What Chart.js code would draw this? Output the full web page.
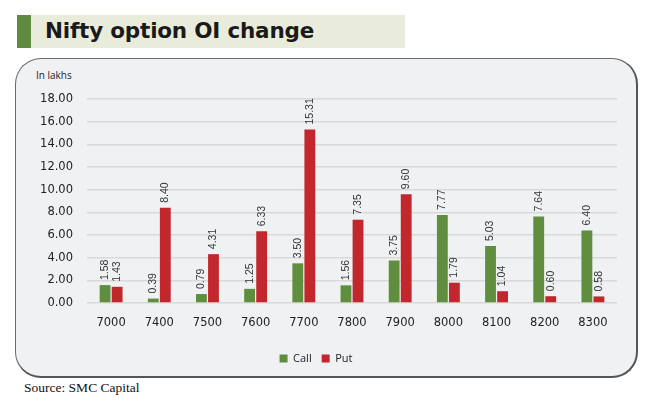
<!DOCTYPE html>
<html lang="en">
<head>
<meta charset="UTF-8">
<title>Nifty option OI change</title>
<script src="https://cdn.jsdelivr.net/npm/chart.js"></script>
<style>
  body { margin: 0; background: #fff; width: 663px; height: 402px; position: relative; overflow: hidden; }
  .titulo { position: absolute; left: 17px; top: 15px; width: 388px; height: 33px; background: #e9ecda; }
  .titulo .barra { position: absolute; left: 0; top: 0; width: 14px; height: 33px; background: #5f8a3f; }
  .titulo span { position: absolute; left: 28px; top: 3px; font: bold 21.5px "DejaVu Sans"; color: #1a1a1a; letter-spacing: -0.2px; }
  .caixa { position: absolute; left: 15px; top: 58px; width: 620px; height: 317px; background: #f0f1f3;
           border: 1.5px solid #6b6b6b; border-right: 2.5px solid #555; border-bottom: 2px solid #555; border-radius: 26px; }
  .unidade { position: absolute; left: 36px; top: 68px; font: 10px "Open Sans"; color: #222; }
  .fonte { position: absolute; left: 24px; top: 380px; font: 13.5px "Liberation Serif"; color: #111; }
</style>
</head>
<body>
  <div class="titulo"><div class="barra"></div><span>Nifty option OI change</span></div>
  <div class="caixa"></div>
  <div class="unidade">In lakhs</div>
  <div id="wrap" style="position:absolute;left:15px;top:58px;width:622px;height:319px;">
    <canvas id="graficoOI"></canvas>
  </div>
  <div class="fonte">Source: SMC Capital</div>

<script>
  const strikes = ['7000', '7400', '7500', '7600', '7700', '7800', '7900', '8000', '8100', '8200', '8300'];
  const callOI = [1.58, 0.39, 0.79, 1.25, 3.50, 1.56, 3.75, 7.77, 5.03, 7.64, 6.40];
  const putOI = [1.43, 8.40, 4.31, 6.33, 15.31, 7.35, 9.60, 1.79, 1.04, 0.60, 0.58];

  // rotulos verticais acima das barras
  const rotulos = {
    id: 'rotulos',
    afterDatasetsDraw(chart) {
      const ctx = chart.ctx;
      ctx.save();
      ctx.font = '10.5px "Liberation Sans"';
      ctx.fillStyle = '#333';
      ctx.textAlign = 'left';
      ctx.textBaseline = 'middle';
      chart.data.datasets.forEach(function (ds, i) {
        chart.getDatasetMeta(i).data.forEach(function (bar, j) {
          ctx.save();
          ctx.translate(bar.x, bar.y - 5);
          ctx.rotate(-Math.PI / 2);
          ctx.fillText(ds.data[j].toFixed(2), 0, 0);
          ctx.restore();
        });
      });
      ctx.restore();
    }
  };

  const ctx = document.getElementById('graficoOI');

  new Chart(ctx, {
    type: 'bar',
    data: {
      labels: strikes,
      datasets: [
        { label: 'Call', data: callOI, backgroundColor: '#5e8e3e', categoryPercentage: 0.5, barPercentage: 0.9 },
        { label: 'Put', data: putOI, backgroundColor: '#c1272d', categoryPercentage: 0.5, barPercentage: 0.9 }
      ]
    },
    options: {
      responsive: true,
      maintainAspectRatio: false,
      animation: false,
      layout: { padding: { top: 41, right: 20, bottom: 3, left: 0 } },
      plugins: {
        legend: {
          position: 'bottom',
          labels: { boxWidth: 8, boxHeight: 8, padding: 10, color: '#222', font: { family: 'Open Sans', size: 11 } }
        },
        tooltip: { enabled: false }
      },
      scales: {
        x: {
          grid: { display: false, drawTicks: false },
          border: { display: false },
          ticks: { padding: 13, color: '#222', font: { family: 'DejaVu Sans', size: 11.5 } },
          afterFit: function (s) { s.height = 40; }
        },
        y: {
          min: 0,
          max: 18,
          ticks: { stepSize: 2, padding: 14, color: '#222', font: { family: 'DejaVu Sans', size: 11.5 },
                   callback: function (v) { return v.toFixed(2); } },
          grid: { color: '#d9d9d9', lineWidth: 1.5, drawTicks: false },
          border: { display: false },
          afterFit: function (s) { s.width = 72; }
        }
      }
    },
    plugins: [rotulos]
  });
</script>
</body>
</html>
